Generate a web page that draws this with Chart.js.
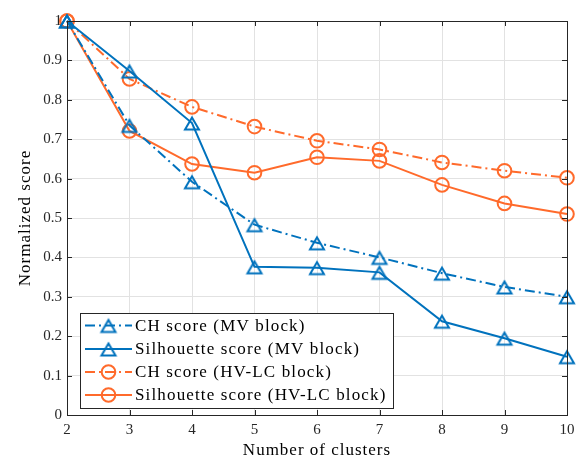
<!DOCTYPE html>
<html><head><meta charset="utf-8">
<script src="https://cdn.jsdelivr.net/npm/chart.js@4.4.1/dist/chart.umd.min.js"></script>
<style>html,body{margin:0;padding:0;background:#fff}canvas{display:block}</style>
</head><body>
<canvas id="c" width="582" height="460"></canvas>
<script>
// ---- data ----
const clusters = ['2', '3', '4', '5', '6', '7', '8', '9', '10'];
const chMV  = [1, 0.735, 0.592, 0.483, 0.437, 0.400, 0.360, 0.325, 0.300];
const silMV = [1, 0.873, 0.741, 0.376, 0.374, 0.362, 0.238, 0.195, 0.148];
const chHV  = [1, 0.853, 0.782, 0.732, 0.696, 0.674, 0.641, 0.620, 0.602];
const silHV = [1, 0.721, 0.637, 0.615, 0.654, 0.645, 0.584, 0.537, 0.510];
const yTickLabels = ['0', '0.1', '0.2', '0.3', '0.4', '0.5', '0.6', '0.7', '0.8', '0.9', '1'];
const seriesNames = ['CH score (MV block)', 'Silhouette score (MV block)', 'CH score (HV-LC block)', 'Silhouette score (HV-LC block)'];
const xTitle = 'Number of clusters';
const yTitle = 'Normalized score';

// ---- styles ----
const BLUE = '#0072BD';
const ORANGE = '#FF6A2B';
const AXIS = '#262626';
const GRID = '#e2e2e2';
const DASHDOT = [10, 4, 2, 4];
const FONT = '"Liberation Serif", "Times New Roman", serif';

function triangleCanvas(color) {
  const c = document.createElement('canvas');
  c.width = 22; c.height = 22;
  const g = c.getContext('2d');
  const s = 14, h = s * 0.866;
  const cx = 11, top = 11 - (h + 3) / 2 + 2;
  g.strokeStyle = color; g.lineWidth = 2; g.lineJoin = 'miter';
  g.beginPath();
  g.moveTo(cx, top);
  g.lineTo(cx - s / 2, top + h);
  g.lineTo(cx + s / 2, top + h);
  g.closePath();
  g.stroke();
  return c;
}
const triBlue = triangleCanvas(BLUE);

function ds(label, data, color, dashed, marker) {
  return {
    label, data,
    borderColor: color,
    backgroundColor: 'rgba(0,0,0,0)',
    borderWidth: 2,
    borderDash: dashed ? DASHDOT : [],
    tension: 0,
    fill: false,
    clip: false,
    pointStyle: marker === 'tri' ? triBlue : 'circle',
    pointRadius: marker === 'tri' ? 10 : 6.8,
    pointBorderWidth: 2,
    pointBorderColor: color,
    pointBackgroundColor: 'rgba(0,0,0,0)',
    pointHoverRadius: marker === 'tri' ? 10 : 6.8
  };
}

const datasets = [
  ds(seriesNames[0], chMV, BLUE, true, 'tri'),
  ds(seriesNames[1], silMV, BLUE, false, 'tri'),
  ds(seriesNames[2], chHV, ORANGE, true, 'circ'),
  ds(seriesNames[3], silHV, ORANGE, false, 'circ')
];

const decorPlugin = {
  id: 'decor',
  afterDatasetsDraw(chart) {
    const ctx = chart.ctx;
    const a = chart.chartArea;
    const xs = chart.scales.x, ys = chart.scales.y;
    ctx.save();
    // inner ticks
    ctx.strokeStyle = AXIS; ctx.lineWidth = 1;
    ctx.beginPath();
    const TL = 5;
    ys.ticks.forEach(t => {
      const y = Math.round(ys.getPixelForValue(t.value)) + 0.5;
      ctx.moveTo(a.left, y); ctx.lineTo(a.left + TL, y);
      ctx.moveTo(a.right, y); ctx.lineTo(a.right - TL, y);
    });
    xs.ticks.forEach((t, i) => {
      const x = Math.round(xs.getPixelForValue(i)) + 0.5;
      ctx.moveTo(x, a.bottom); ctx.lineTo(x, a.bottom - TL);
      ctx.moveTo(x, a.top); ctx.lineTo(x, a.top + TL);
    });
    ctx.stroke();
    // box
    ctx.strokeRect(Math.round(a.left) + 0.5, Math.round(a.top) + 0.5,
                   Math.round(a.right - a.left), Math.round(a.bottom - a.top));

    // axis titles
    ctx.fillStyle = '#000';
    ctx.font = '17px ' + FONT;
    try { ctx.letterSpacing = '1px'; } catch (e) {}
    ctx.textAlign = 'center'; ctx.textBaseline = 'middle';
    ctx.fillText(xTitle, (a.left + a.right) / 2, 451);
    ctx.save();
    ctx.translate(26, (a.top + a.bottom) / 2);
    ctx.rotate(-Math.PI / 2);
    ctx.fillText(yTitle, 0, 0);
    ctx.restore();

    // legend
    const L = 80.5, T = 313.5, W = 313, H = 95;
    ctx.fillStyle = '#fff';
    ctx.fillRect(L, T, W, H);
    ctx.strokeStyle = AXIS; ctx.lineWidth = 1;
    ctx.strokeRect(L, T, W, H);
    const rows = [325.5, 349, 372, 395];
    try { ctx.letterSpacing = '1.15px'; } catch (e) {}
    datasets.forEach((d, i) => {
      const y = rows[i];
      ctx.strokeStyle = d.borderColor; ctx.lineWidth = 2;
      ctx.setLineDash(d.borderDash);
      ctx.beginPath(); ctx.moveTo(85, y); ctx.lineTo(132, y); ctx.stroke();
      ctx.setLineDash([]);
      if (d.pointStyle === 'circle') {
        ctx.beginPath(); ctx.arc(108.5, y, d.pointRadius, 0, Math.PI * 2); ctx.stroke();
      } else {
        ctx.drawImage(d.pointStyle, 108.5 - d.pointStyle.width / 2, y - d.pointStyle.height / 2);
      }
      ctx.fillStyle = '#000';
      ctx.textAlign = 'left'; ctx.textBaseline = 'middle';
      ctx.fillText(d.label, 135, y + 1);
    });
    ctx.restore();
  }
};

new Chart(document.getElementById('c'), {
  type: 'line',
  data: { labels: clusters, datasets },
  options: {
    responsive: false,
    animation: false,
    devicePixelRatio: 1,
    events: [],
    layout: { padding: { top: 21, right: 15, left: 0, bottom: 0 } },
    plugins: { legend: { display: false }, tooltip: { enabled: false } },
    scales: {
      x: {
        type: 'category',
        offset: false,
        grid: { color: GRID, lineWidth: 1, drawTicks: false },
        border: { display: false },
        ticks: { color: AXIS, font: { family: FONT, size: 15 }, padding: 6, autoSkip: false, maxRotation: 0 },
        afterFit: s => { s.height = 45; }
      },
      y: {
        min: 0, max: 1,
        grid: { color: GRID, lineWidth: 1, drawTicks: false },
        border: { display: false },
        ticks: {
          stepSize: 0.1, color: AXIS, font: { family: FONT, size: 15 }, padding: 5, autoSkip: false,
          callback: (v, i) => yTickLabels[i]
        },
        afterFit: s => { s.width = 67; }
      }
    }
  },
  plugins: [decorPlugin]
});
</script>
</body></html>
